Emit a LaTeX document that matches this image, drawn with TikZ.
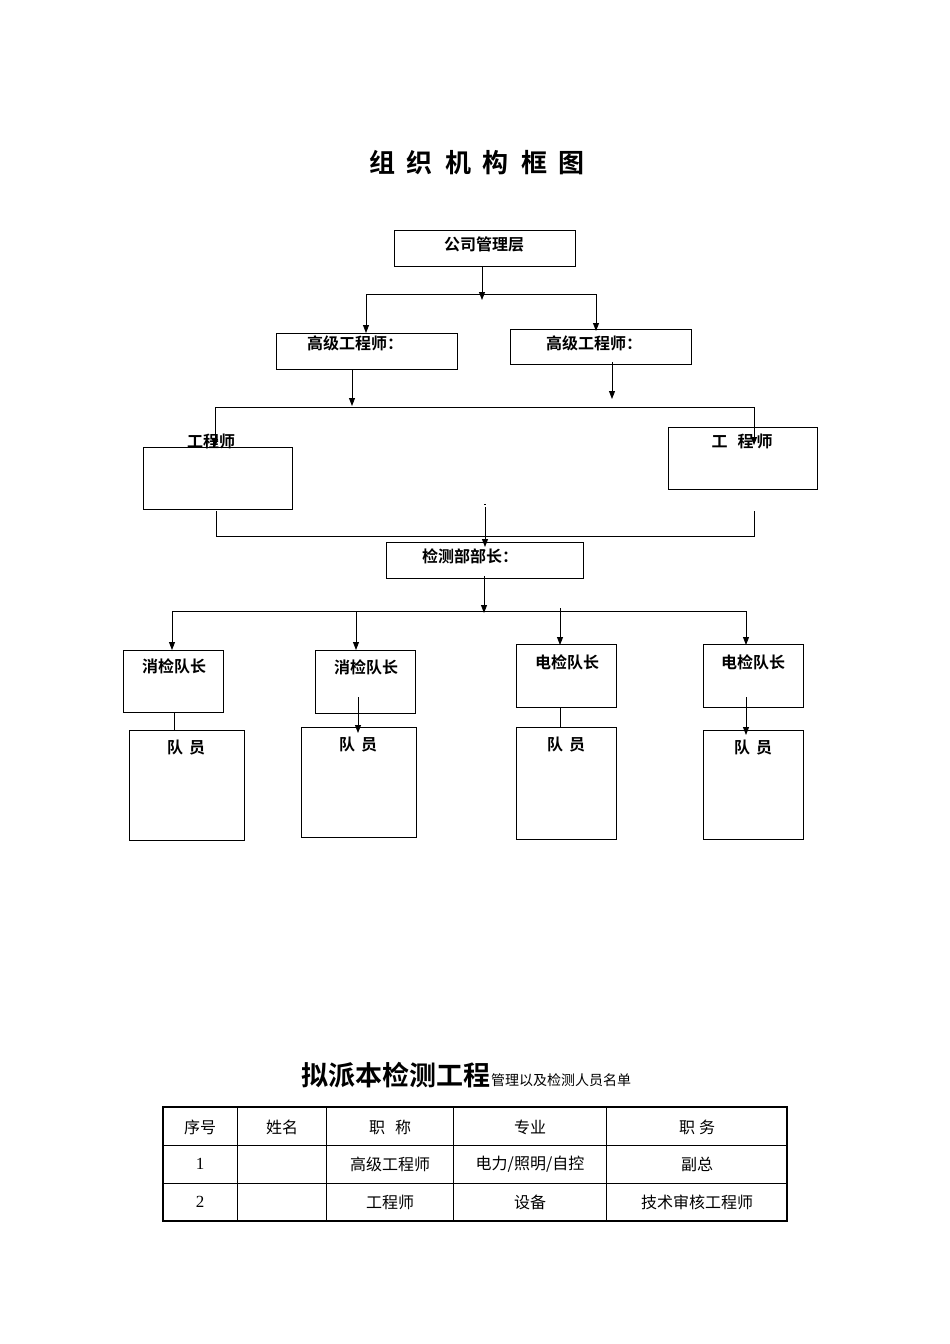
\documentclass[tikz,border=0pt]{standalone}
\usepackage{fontspec}
\setmainfont{Liberation Serif}
\newfontfamily\cjk{Noto Sans CJK SC}
\newfontfamily\cjkb{Noto Sans CJK SC Bold}
\usetikzlibrary{arrows.meta}
\begin{document}
\begin{tikzpicture}[x=1pt,y=-1pt,
  bx/.style={draw,line width=0.9pt},
  lb/.style={font=\cjkb\fontsize{16}{18}\selectfont,inner sep=0},
  ar/.style={line width=0.9pt,-{Triangle[length=8pt,width=6pt]}},
  ln/.style={line width=0.9pt},
  tt/.style={font=\cjk\fontsize{16}{18}\selectfont,inner sep=0}]
\useasboundingbox[fill=white] (0,0) rectangle (950,1344);
\node[font=\cjkb\fontsize{26}{30}\selectfont] (title) at (477,163) {组\hspace{12pt}织\hspace{12pt}机\hspace{12pt}构\hspace{12pt}框\hspace{12pt}图};
% boxes
\draw[bx] (394,230) rectangle (575,266); \node[lb] (top) at (484,244) {公司管理层};
\draw[bx] (276,333) rectangle (457,369); \node[lb] (s1) at (355,343) {高级工程师：};
\draw[bx] (510,329) rectangle (691,364); \node[lb] (s2) at (594,343) {高级工程师：};
\draw[bx] (143,447) rectangle (292,509); \node[lb] (e1) at (211,441) {工程师};
\draw[bx] (668,427) rectangle (817,489); \node[lb] (e2) at (742,441) {工\hspace{10pt}程\hspace{3pt}师};
\draw[bx] (386,542) rectangle (583,578); \node[lb] (d) at (470,556) {检测部部长：};
\draw[bx] (123,650) rectangle (223,712); \node[lb] (c1) at (174,666) {消检队长};
\draw[bx] (315,650) rectangle (415,713); \node[lb] (c2) at (366,667) {消检队长};
\draw[bx] (516,644) rectangle (616,707); \node[lb] (c3) at (567,662) {电检队长};
\draw[bx] (703,644) rectangle (803,707); \node[lb] (c4) at (753,662) {电检队长};
\draw[bx] (129,730) rectangle (244,840); \node[lb] (m1) at (186,748) {队\hspace{6pt}员};
\draw[bx] (301,727) rectangle (416,837); \node[lb] (m2) at (358,745) {队\hspace{6pt}员};
\draw[bx] (516,727) rectangle (616,839); \node[lb] (m3) at (566,745) {队\hspace{6pt}员};
\draw[bx] (703,730) rectangle (803,839); \node[lb] (m4) at (753,748) {队\hspace{6pt}员};
% connectors
\draw[ar] (482,266) -- (482,300);
\draw[ln] (366,294) -- (596,294);
\draw[ar] (366,294) -- (366,333);
\draw[ar] (596,294) -- (596,331);
\draw[ar] (352,369) -- (352,406);
\draw[ar] (612,362) -- (612,399);
\draw[ln] (215,407) -- (754,407);
\draw[ar] (215,407) -- (215,447);
\draw[ar] (754,407) -- (754,445);
\draw[ln] (216,511) -- (216,536) -- (754,536) -- (754,511);
\draw[ln] (484,504) -- (486,504);
\draw[ar] (485,507) -- (485,547);
\draw[ar] (484,576) -- (484,613);
\draw[ln] (172,611) -- (746,611);
\draw[ar] (172,611) -- (172,650);
\draw[ar] (356,611) -- (356,650);
\draw[ar] (560,608) -- (560,645);
\draw[ar] (746,611) -- (746,645);
\draw[ln] (174,712) -- (174,730);
\draw[ar] (358,697) -- (358,733);
\draw[ln] (560,707) -- (560,727);
\draw[ar] (746,697) -- (746,735);
% table title
\node[anchor=base east,inner sep=0,font=\cjkb\fontsize{27}{30}\selectfont] (tt1) at (491,1085) {拟派本检测工程};
\node[anchor=base west,inner sep=0,font=\cjk\fontsize{14}{16}\selectfont] (tt2) at (491,1085) {管理以及检测人员名单};
% table
\draw[line width=0.6pt] (163,1145) -- (787,1145) (163,1183) -- (787,1183);
\draw[line width=0.6pt] (237,1107) -- (237,1221) (326,1107) -- (326,1221) (453,1107) -- (453,1221) (606,1107) -- (606,1221);
\draw[line width=2pt] (163,1107) rectangle (787,1221);
\node[tt] (h1) at (200,1127) {序号};
\node[tt] (h2) at (282,1127) {姓名};
\node[tt] (h3) at (390,1127) {职\hspace{10pt}称};
\node[tt] (h4) at (530,1127) {专业};
\node[tt] (h5) at (697,1127) {职\hspace{4pt}务};
\node[tt,font=\fontsize{17}{18}\selectfont] (r1) at (200,1164) {1};
\node[tt] (r1c) at (390,1164) {高级工程师};
\node[tt] (r1d) at (530,1164) {电力/照明/自控};
\node[tt] (r1e) at (697,1164) {副总};
\node[tt,font=\fontsize{17}{18}\selectfont] (r2) at (200,1202) {2};
\node[tt] (r2c) at (390,1202) {工程师};
\node[tt] (r2d) at (530,1202) {设备};
\node[tt] (r2e) at (697,1202) {技术审核工程师};
\end{tikzpicture}
\end{document}
